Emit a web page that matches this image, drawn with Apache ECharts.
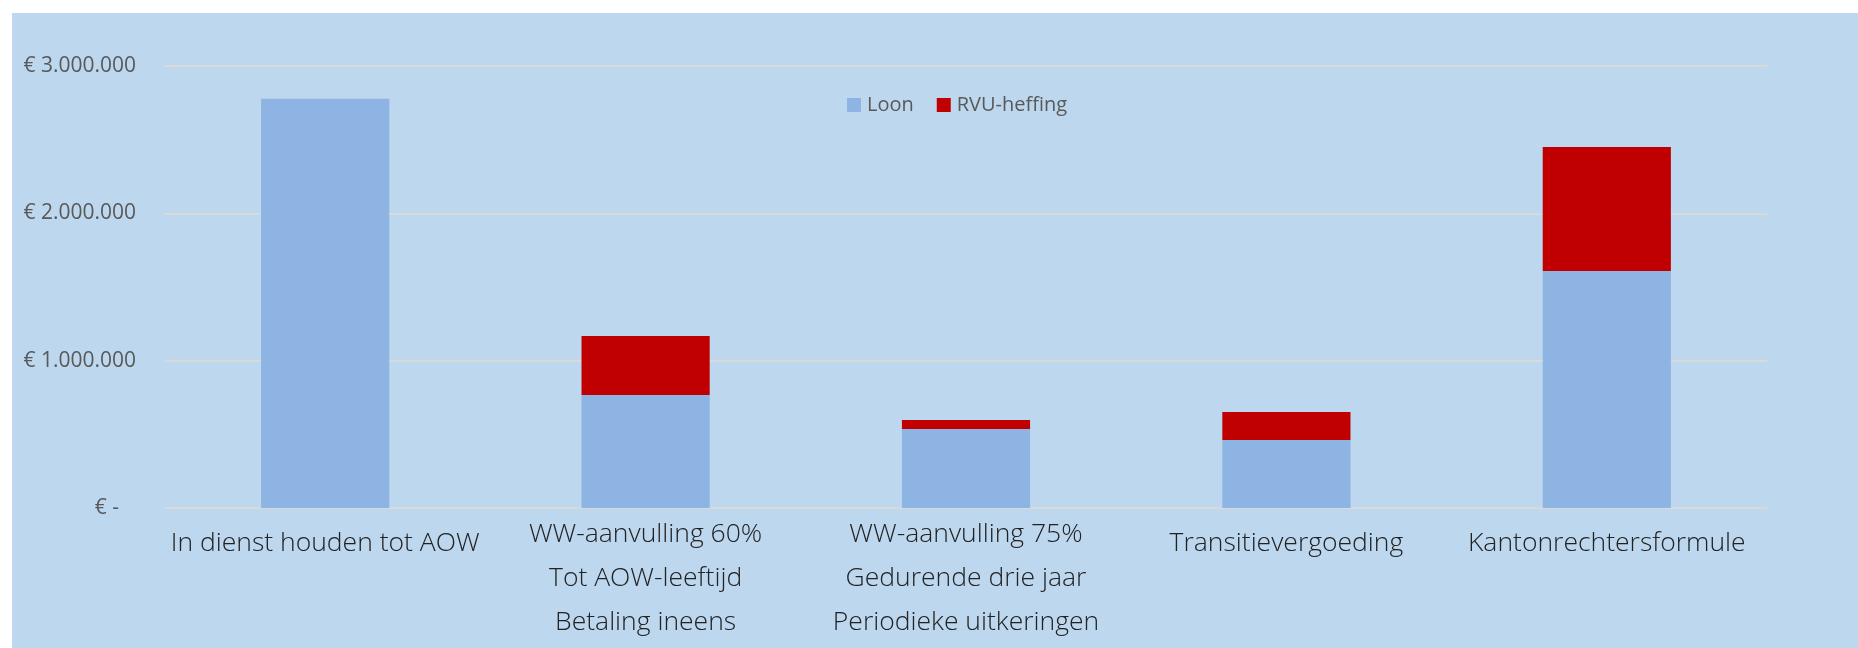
<!DOCTYPE html>
<html>
<head>
<meta charset="utf-8">
<script src="https://cdn.jsdelivr.net/npm/echarts@6/dist/echarts.min.js"></script>
<style>
  html, body { margin: 0; padding: 0; background: #ffffff; width: 1858px; height: 648px; overflow: hidden; }
  #chart { position: absolute; left: 12px; top: 13px; width: 1846px; height: 635px; }
</style>
</head>
<body>
<div id="chart"></div>
<script>
const categories = [
  'In dienst houden tot AOW',
  'WW-aanvulling 60%\nTot AOW-leeftijd\nBetaling ineens',
  'WW-aanvulling 75%\nGedurende drie jaar\nPeriodieke uitkeringen',
  'Transitievergoeding',
  'Kantonrechtersformule'
];
const loon = [2777000, 767000, 536000, 462000, 1609000];
const rvuHeffing = [null, 401000, 61000, 190000, 842000];
const yMin = 0, yMax = 3000000, yStep = 1000000;

function fmtEuro(v) {
  if (v === 0) return '{z|€ -}';
  return '€ ' + String(v).replace(/\B(?=(\d{3})+(?!\d))/g, '.');
}

// single-line labels sit a little lower in the original
const categoryData = categories.map(function (c) {
  return c.indexOf('\n') === -1
    ? { value: c, textStyle: { padding: [9, 0, 0, 0] } }
    : { value: c };
});

const chart = echarts.init(document.getElementById('chart'), null, { renderer: 'canvas' });
chart.setOption({
  backgroundColor: '#BDD7EE',
  animation: false,
  textStyle: { fontFamily: 'Open Sans' },
  legend: {
    left: 830,
    top: 77,
    itemWidth: 14,
    itemHeight: 14,
    itemGap: 23,
    icon: 'rect',
    textStyle: { fontFamily: 'Open Sans', fontSize: 20, color: '#595959', lineHeight: 20, padding: [0, 0, 0, 1] },
    data: ['Loon', 'RVU-heffing']
  },
  grid: { left: 153, right: 91, top: 53, bottom: 140, containLabel: false },
  xAxis: {
    type: 'category',
    data: categoryData,
    axisLine: { show: false },
    axisTick: { show: false },
    axisLabel: {
      interval: 0,
      margin: 4,
      fontFamily: 'Open Sans',
      fontWeight: 300,
      fontSize: 26.5,
      lineHeight: 44,
      color: '#222222',
      align: 'center'
    }
  },
  yAxis: {
    type: 'value',
    min: yMin,
    max: yMax,
    interval: yStep,
    axisLine: { show: false },
    axisTick: { show: false },
    splitLine: { show: true, lineStyle: { color: '#D9D9D9', width: 2 } },
    axisLabel: {
      margin: 29,
      fontFamily: 'Open Sans',
      fontSize: 21,
      color: '#595959',
      formatter: fmtEuro,
      rich: { z: { fontFamily: 'Open Sans', fontSize: 21, color: '#595959', padding: [0, 17, 0, 0] } }
    }
  },
  series: [
    {
      name: 'Loon', type: 'bar', stack: 'total', data: loon,
      barWidth: '40%',
      itemStyle: { color: '#8EB4E3' }
    },
    {
      name: 'RVU-heffing', type: 'bar', stack: 'total', data: rvuHeffing,
      barWidth: '40%',
      itemStyle: { color: '#C00000' }
    }
  ]
});
</script>
</body>
</html>
